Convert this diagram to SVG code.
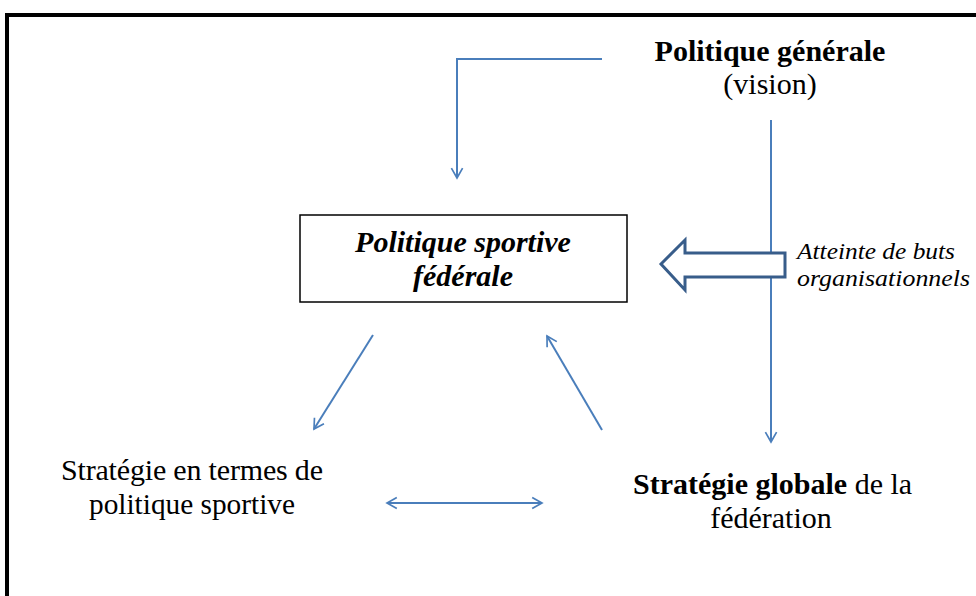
<svg xmlns="http://www.w3.org/2000/svg" width="976" height="596" viewBox="0 0 976 596">
<style>
.t{font-family:"Liberation Serif","Times New Roman",serif;fill:#000;font-size:30px}
.b{font-weight:bold}
.i{font-style:italic}
.s{font-size:24px}
.c{stroke:#4a7ebb;stroke-width:2;fill:none}
</style>
<defs>
<marker id="ah" viewBox="0 0 20 20" refX="16" refY="10" markerWidth="14" markerHeight="14" markerUnits="userSpaceOnUse" orient="auto-start-reverse">
<path d="M2,2 L16,10 L2,18" fill="none" stroke="#4a7ebb" stroke-width="2.4"/>
</marker>
</defs>
<rect width="976" height="596" fill="#fff"/>
<path d="M7,600 L7,15 L980,15" fill="none" stroke="#000" stroke-width="4"/>
<g id="connectors">
<path class="c" d="M602,59 L457,59 L457,178" marker-end="url(#ah)"/>
<path class="c" d="M771,120 L771,442" marker-end="url(#ah)"/>
<path class="c" d="M373,335 L314,429" marker-end="url(#ah)"/>
<path class="c" d="M602,430 L547,336" marker-end="url(#ah)"/>
<path class="c" d="M387,503 L542,503" marker-start="url(#ah)" marker-end="url(#ah)"/>
<path d="M661,264 L685,240 L685,253 L785,253 L785,277 L685,277 L685,290 Z" fill="#fff" stroke="#385d8a" stroke-width="3" stroke-linejoin="miter"/>
</g>
<g id="n-politique-generale">
<text class="t b" x="770" y="61" text-anchor="middle">Politique générale</text>
<text class="t" x="770" y="94" text-anchor="middle">(vision)</text>
</g>
<g id="n-politique-sportive">
<rect x="300" y="215" width="327" height="87" fill="#fff" stroke="#000" stroke-width="1.5"/>
<text class="t b i" x="463" y="252" text-anchor="middle">Politique sportive</text>
<text class="t b i" x="463" y="286" text-anchor="middle">fédérale</text>
</g>
<g id="n-atteinte">
<text class="t i s" x="797" y="259" textLength="158" lengthAdjust="spacingAndGlyphs">Atteinte de buts</text>
<text class="t i s" x="797" y="286" textLength="173" lengthAdjust="spacingAndGlyphs">organisationnels</text>
</g>
<g id="n-strategie-politique">
<text class="t" x="61" y="480" textLength="262" lengthAdjust="spacing">Stratégie en termes de</text>
<text class="t" x="192" y="514" text-anchor="middle" textLength="206" lengthAdjust="spacingAndGlyphs">politique sportive</text>
</g>
<g id="n-strategie-globale">
<text class="t" x="633" y="494"><tspan class="b">Stratégie globale</tspan> de la</text>
<text class="t" x="771" y="528" text-anchor="middle">fédération</text>
</g>
</svg>
